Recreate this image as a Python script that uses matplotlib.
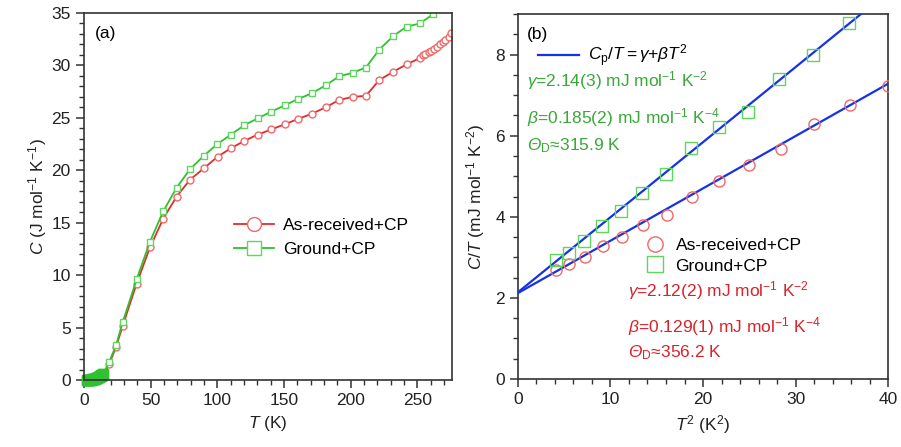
import numpy as np
import matplotlib
matplotlib.use('Agg')
import matplotlib.pyplot as plt
from matplotlib.lines import Line2D
from matplotlib.ticker import MultipleLocator

plt.rcParams['font.family'] = ['Liberation Sans', 'DejaVu Sans']
plt.rcParams['mathtext.fontset'] = 'custom'
plt.rcParams['mathtext.rm'] = 'Liberation Sans'
plt.rcParams['mathtext.it'] = 'Liberation Sans:italic'
plt.rcParams['mathtext.bf'] = 'Liberation Sans:bold'
# italic capital Greek (mathit forces upright for those)
plt.rcParams['mathtext.sf'] = 'Liberation Sans:italic'

# ---- panel (a): C vs T ----
T_low = [2.0, 2.4, 2.8, 3.2, 3.6, 4.0, 4.5, 5.0, 5.5, 6.0, 6.5, 7.0, 7.5, 8.0, 8.5,
         9.0, 9.5, 10.0, 10.5, 11.0, 11.5, 12.0, 12.5, 13.0, 13.5, 14.0, 14.5]
C_low_ground = [0.01, 0.01, 0.01, 0.01, 0.02, 0.02, 0.03, 0.03, 0.04, 0.05, 0.06, 0.08, 0.09, 0.11, 0.13,
                0.15, 0.18, 0.21, 0.24, 0.27, 0.31, 0.35, 0.40, 0.45, 0.50, 0.55, 0.61]
C_low_asrec = [0.01, 0.01, 0.01, 0.01, 0.01, 0.02, 0.02, 0.03, 0.03, 0.04, 0.05, 0.06, 0.07, 0.08, 0.10,
               0.12, 0.14, 0.16, 0.18, 0.21, 0.24, 0.27, 0.31, 0.35, 0.39, 0.43, 0.48]

T_ground = [19, 24, 29, 39.5, 49.5, 59.5, 69.5, 79.5, 90, 100, 110.2, 120.2, 130.2, 140.6,
            150.7, 160.6, 171, 181.2, 191.2, 201.4, 211.4, 221.4, 231.9, 241.9, 251.9, 261.9]
C_ground = [1.75, 3.3, 5.5, 9.6, 13.2, 16.1, 18.35, 20.1, 21.4, 22.5, 23.4, 24.3, 24.95, 25.6,
            26.2, 26.8, 27.35, 28.1, 28.95, 29.3, 29.8, 31.5, 32.8, 33.7, 34.0, 34.9]

T_asrec = [19, 24, 29, 39.5, 49.5, 59.5, 69.5, 79.5, 90, 100.2, 110.2, 120.2, 130.2, 140.6,
           150.7, 160.6, 171, 181.2, 191.2, 201.4, 211.4, 221.4, 231.9, 241.9, 251.9,
           253.9, 256.1, 258.4, 260.6, 262.6, 264.8, 266.9, 269.1, 271.1, 273.4, 275.6]
C_asrec = [1.53, 3.15, 5.15, 9.2, 12.65, 15.4, 17.5, 19.1, 20.2, 21.3, 22.1, 22.8, 23.4, 23.9,
           24.4, 24.9, 25.4, 26.0, 26.7, 27.0, 27.1, 28.6, 29.4, 30.1, 30.7,
           31.0, 31.05, 31.3, 31.4, 31.6, 31.8, 32.0, 32.2, 32.4, 32.7, 33.1]

# ---- panel (b): C/T vs T^2 ----
T2_asrec = [4.1, 5.5, 7.2, 9.2, 11.2, 13.5, 16.1, 18.8, 21.7, 25.0, 28.4, 32.0, 35.9, 40.0]
CT_asrec = [2.68, 2.83, 3.0, 3.29, 3.49, 3.80, 4.05, 4.49, 4.88, 5.27, 5.66, 6.29, 6.76, 7.22]
T2_ground = [4.1, 5.5, 7.1, 9.1, 11.1, 13.4, 16.0, 18.7, 21.7, 24.9, 28.2, 31.9, 35.8]
CT_ground = [2.93, 3.10, 3.40, 3.77, 4.14, 4.58, 5.05, 5.69, 6.21, 6.58, 7.39, 7.98, 8.77]

gamma_ground, beta_ground = 2.14, 0.185
gamma_asrec, beta_asrec = 2.12, 0.129

red_line = '#e42b2b'
red_mk = '#f06868'
green_line = '#2fc12f'
green_mk = '#5fd65f'
blue = '#1432e6'
green_txt = '#38a838'
red_txt = '#d8232a'
spine_c = '#333333'
fs = 12.5

fig = plt.figure(figsize=(9.01, 4.47), dpi=100)
ax1 = fig.add_axes([0.0932, 0.1499, 0.4085, 0.8210])
ax2 = fig.add_axes([0.5749, 0.1521, 0.4107, 0.8166])

for ax in (ax1, ax2):
    for s in ax.spines.values():
        s.set_color(spine_c)
        s.set_linewidth(1.2)
    ax.tick_params(which='both', direction='out', colors=spine_c, labelcolor='#222222',
                   labelsize=fs, top=False, right=False)
    ax.tick_params(which='major', length=6, width=1.1)
    ax.tick_params(which='minor', length=3.5, width=1.0)

# panel (a)
ax1.plot(T_low + T_asrec, C_low_asrec + C_asrec, '-o', color=red_line, lw=1.3,
         ms=5, mfc='white', mec=red_mk, mew=1.0, label='As-received+CP')
ax1.plot(T_low + T_ground, C_low_ground + C_ground, '-s', color=green_line, lw=1.3,
         ms=5, mfc='white', mec=green_mk, mew=1.0, label='Ground+CP')
ax1.plot(T_low, C_low_ground, 's', color=green_line, ms=6.5, mfc=green_line, mec=green_line,
         clip_on=False)
ax1.set_xlim(0, 276)
ax1.set_ylim(0, 35)
ax1.xaxis.set_major_locator(MultipleLocator(50))
ax1.xaxis.set_minor_locator(MultipleLocator(10))
ax1.yaxis.set_major_locator(MultipleLocator(5))
ax1.yaxis.set_minor_locator(MultipleLocator(1))
ax1.set_xlabel(r'$T$ (K)', fontsize=fs, color='#222222', labelpad=4)
ax1.set_ylabel(r'$C$ (J mol$^{-1}$ K$^{-1}$)', fontsize=fs, color='#222222', labelpad=2)
ax1.text(0.03, 0.965, '(a)', transform=ax1.transAxes, fontsize=fs, va='top', ha='left')
leg_handles = [Line2D([], [], color=red_line, marker='o', ms=10, mfc='white', mec=red_mk, lw=1.3),
               Line2D([], [], color=green_line, marker='s', ms=10, mfc='white', mec=green_mk, lw=1.3)]
ax1.legend(leg_handles, ['As-received+CP', 'Ground+CP'], loc='upper left',
           bbox_to_anchor=(0.385, 0.465), frameon=False, fontsize=fs,
           handlelength=2.3, handletextpad=0.5, labelspacing=0.5, borderpad=0)

# panel (b)
x_fit = np.array([0, 40])
ax2.plot(x_fit, gamma_ground + beta_ground * x_fit, color=blue, lw=1.6, zorder=3)
ax2.plot(x_fit, gamma_asrec + beta_asrec * x_fit, color=blue, lw=1.6, zorder=3)
ax2.plot(T2_asrec, CT_asrec, 'o', ms=8, mfc='none', mec=red_mk, mew=1.0, zorder=4)
ax2.plot(T2_ground, CT_ground, 's', ms=8, mfc='none', mec=green_mk, mew=1.0, zorder=4)
ax2.set_xlim(0, 40)
ax2.set_ylim(0, 9)
ax2.xaxis.set_major_locator(MultipleLocator(10))
ax2.xaxis.set_minor_locator(MultipleLocator(2))
ax2.yaxis.set_major_locator(MultipleLocator(2))
ax2.yaxis.set_minor_locator(MultipleLocator(0.5))
ax2.set_xlabel(r'$T^{2}$ (K$^{2}$)', fontsize=fs, color='#222222', labelpad=4)
ax2.set_ylabel(r'$C/T$ (mJ mol$^{-1}$ K$^{-2}$)', fontsize=fs, color='#222222', labelpad=6)
ax2.text(0.025, 0.965, '(b)', transform=ax2.transAxes, fontsize=fs, va='top', ha='left')

fit_leg = ax2.legend([Line2D([], [], color=blue, lw=1.6)],
                     [r'$C_{\mathrm{p}}/T = \gamma$+$\beta T^{2}$'],
                     loc='upper left', bbox_to_anchor=(0.03, 0.945), frameon=False,
                     fontsize=fs, handlelength=2.4, handletextpad=0.5, borderpad=0)
ax2.add_artist(fit_leg)
ax2.legend([Line2D([], [], ls='none', marker='o', ms=11, mfc='none', mec=red_mk),
            Line2D([], [], ls='none', marker='s', ms=11, mfc='none', mec=green_mk)],
           ['As-received+CP', 'Ground+CP'], loc='upper left', bbox_to_anchor=(0.318, 0.41),
           frameon=False, fontsize=fs, handlelength=1.2, handletextpad=0.6,
           labelspacing=0.3, borderpad=0)

def put(ax, x, y_px, s, c):
    ax.text(x, 1 - (y_px - 14) / 365.0, s, transform=ax.transAxes, fontsize=fs,
            color=c, va='center', ha='left')

put(ax2, 0.025, 81, r'$\gamma$=2.14(3) mJ mol$^{-1}$ K$^{-2}$', green_txt)
put(ax2, 0.025, 118, r'$\beta$=0.185(2) mJ mol$^{-1}$ K$^{-4}$', green_txt)
put(ax2, 0.025, 146, r'$\mathsf{Θ}_{\mathrm{D}}$≈315.9 K', green_txt)
put(ax2, 0.297, 291, r'$\gamma$=2.12(2) mJ mol$^{-1}$ K$^{-2}$', red_txt)
put(ax2, 0.297, 327, r'$\beta$=0.129(1) mJ mol$^{-1}$ K$^{-4}$', red_txt)
put(ax2, 0.297, 353, r'$\mathsf{Θ}_{\mathrm{D}}$≈356.2 K', red_txt)

fig.savefig('out.png', dpi=100)
